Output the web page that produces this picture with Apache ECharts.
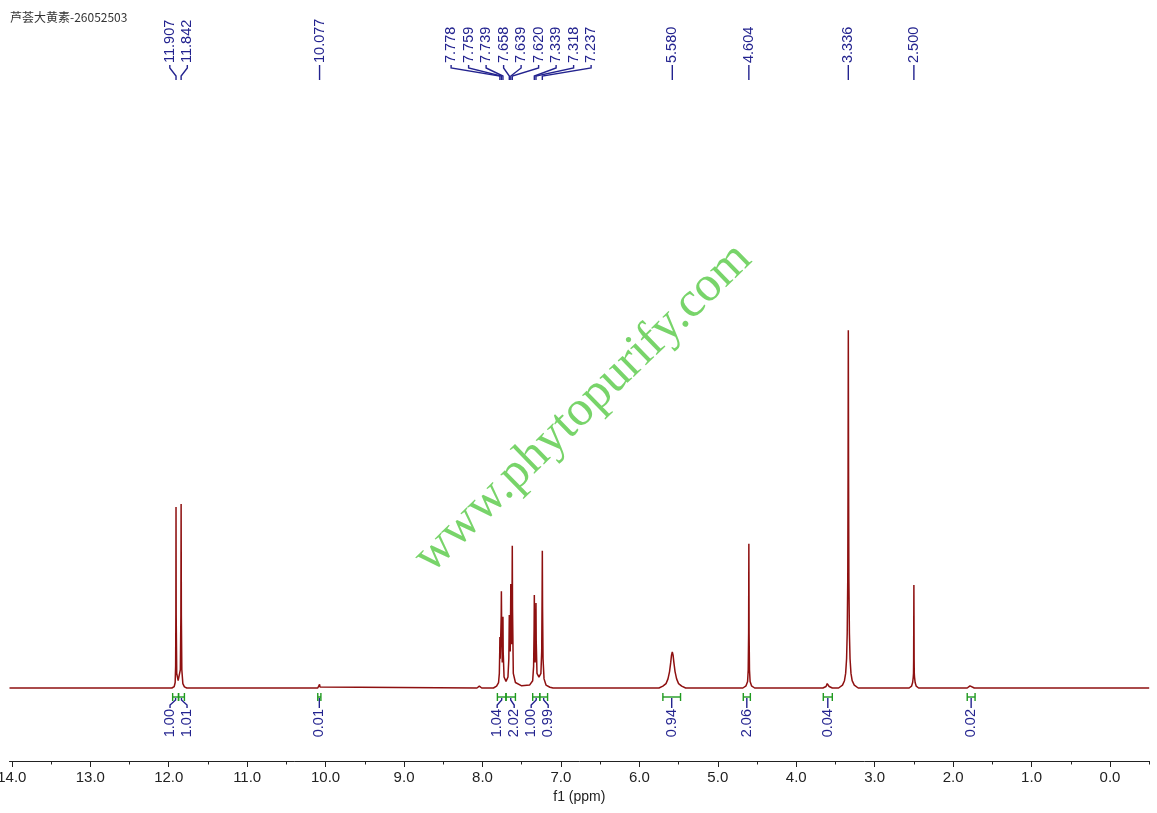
<!DOCTYPE html>
<html>
<head>
<meta charset="utf-8">
<script src="https://cdn.jsdelivr.net/npm/echarts@6/dist/echarts.min.js"></script>
<style>
html,body{margin:0;padding:0;background:#fff;}
#chart{width:1157px;height:813px;}
</style>
</head>
<body>
<div id="chart"></div>
<script>
// ---- data ----
const titleText = '芦荟大黄素-26052503';
const watermarkText = 'www.phytopurify.com';
const axisName = 'f1 (ppm)';
const majorTicks = [14, 13, 12, 11, 10, 9, 8, 7, 6, 5, 4, 3, 2, 1, 0];
const minorTicks = [13.5, 12.5, 11.5, 10.5, 9.5, 8.5, 7.5, 6.5, 5.5, 4.5, 3.5, 2.5, 1.5, 0.5, -0.5];
const peakLabels = [11.907, 11.842, 10.077, 7.778, 7.759, 7.739, 7.658, 7.639, 7.620, 7.339, 7.318, 7.237, 5.580, 4.604, 3.336, 2.500];
const intFrom = [11.95, 11.875, 10.10, 7.81, 7.70, 7.36, 7.27, 5.70, 4.675, 3.655, 1.82];
const intTo = [11.875, 11.80, 10.06, 7.70, 7.58, 7.27, 7.17, 5.475, 4.585, 3.54, 1.72];
const intValues = ['1.00', '1.01', '0.01', '1.04', '2.02', '1.00', '0.99', '0.94', '2.06', '0.04', '0.02'];
// spectrum points [ppm, intensity]
const spectrum = [
  [14.03, 0], [12.10, 0], [11.96, 0], [11.93, 0.4], [11.918, 1.5], [11.912, 6], [11.909, 20], [11.907, 49.6],
  [11.905, 20], [11.898, 4], [11.88, 2], [11.865, 2.5], [11.852, 5], [11.845, 20], [11.842, 50.4],
  [11.839, 20], [11.833, 5], [11.82, 1.2], [11.80, 0.3], [11.77, 0],
  [10.10, 0], [10.082, 0.3], [10.077, 1.0], [10.072, 0.3], [10.05, 0],
  [8.07, 0], [8.04, 0.5], [8.01, 0],
  [7.86, 0], [7.82, 0.5], [7.795, 1.5], [7.785, 4], [7.780, 10], [7.778, 14], [7.774, 8], [7.766, 8],
  [7.761, 20], [7.759, 26.5], [7.756, 18], [7.748, 7], [7.742, 14], [7.739, 19.5], [7.736, 10], [7.725, 3],
  [7.70, 1.8], [7.675, 3], [7.664, 8], [7.660, 16], [7.658, 20], [7.655, 12], [7.646, 10], [7.641, 22],
  [7.639, 28.5], [7.636, 18], [7.628, 12], [7.622, 30], [7.620, 39], [7.617, 22], [7.607, 4], [7.58, 1.5],
  [7.50, 0.6], [7.40, 0.8], [7.36, 2], [7.348, 6], [7.342, 16], [7.339, 25.5], [7.336, 15], [7.329, 7],
  [7.321, 15], [7.318, 23.3], [7.315, 13], [7.305, 4], [7.28, 3], [7.255, 4], [7.245, 10], [7.240, 25],
  [7.237, 37.6], [7.234, 22], [7.228, 8], [7.215, 2.5], [7.19, 0.8], [7.14, 0.2], [7.10, 0],
  [5.75, 0], [5.70, 0.5], [5.66, 1.2], [5.635, 2.5], [5.615, 4.5], [5.60, 7], [5.59, 9], [5.58, 9.9],
  [5.57, 9], [5.56, 7], [5.545, 4.5], [5.525, 2.5], [5.50, 1.2], [5.46, 0.5], [5.41, 0],
  [4.68, 0], [4.64, 0.6], [4.62, 1.8], [4.612, 5], [4.607, 15], [4.604, 39.5], [4.601, 15], [4.596, 5],
  [4.588, 1.8], [4.57, 0.6], [4.53, 0],
  [3.66, 0], [3.62, 0.4], [3.605, 1.2], [3.60, 1.5], [3.595, 1.2], [3.58, 0.4], [3.54, 0],
  [3.46, 0], [3.41, 0.8], [3.385, 2], [3.37, 4], [3.358, 8], [3.35, 15], [3.343, 30], [3.339, 60],
  [3.336, 98], [3.333, 60], [3.329, 30], [3.322, 15], [3.314, 8], [3.302, 4], [3.287, 2], [3.26, 0.8], [3.21, 0],
  [2.67, 0], [2.65, 0.4], [2.63, 0],
  [2.56, 0], [2.53, 0.5], [2.516, 1.5], [2.508, 3], [2.505, 4], [2.503, 8], [2.500, 28.2], [2.497, 8],
  [2.495, 4], [2.492, 3], [2.484, 1.5], [2.47, 0.5], [2.44, 0],
  [1.82, 0], [1.785, 0.6], [1.775, 1.0], [1.765, 0.6], [1.73, 0],
  [-0.5, 0]
];

// ---- styles ----
const lineColor = '#8e1010';
const blue = '#23238f';
const green = '#1f9a1f';

const chart = echarts.init(document.getElementById('chart'));
const axisCommon = {
  type: 'value', inverse: true, min: -0.5, max: 14.03, gridIndex: 0, position: 'bottom',
  splitLine: { show: false }
};
chart.setOption({
  animation: false,
  backgroundColor: '#fff',
  grid: { left: 9.5, right: 7.8, top: 323, bottom: 52, containLabel: false, outerBoundsMode: 'none' },
  xAxis: [
    Object.assign({}, axisCommon, {
      name: axisName, nameLocation: 'middle', nameGap: 25,
      nameTextStyle: { fontFamily: 'Liberation Sans', fontSize: 14, color: '#222' },
      axisLine: { show: true, onZero: false, lineStyle: { color: '#222', width: 1 } },
      axisTick: { show: true, customValues: majorTicks, length: 6, lineStyle: { color: '#222' } },
      axisLabel: { show: true, customValues: majorTicks, margin: 9,
        fontFamily: 'Liberation Sans', fontSize: 15, color: '#222',
        formatter: v => Number(v).toFixed(1) }
    }),
    Object.assign({}, axisCommon, {
      axisLine: { show: false, onZero: false },
      axisTick: { show: true, customValues: minorTicks, length: 3.5, lineStyle: { color: '#222' } },
      axisLabel: { show: false }
    })
  ],
  yAxis: { type: 'value', min: -20, max: 100, show: false, splitLine: { show: false } },
  series: [{
    type: 'line', data: spectrum, showSymbol: false, symbol: 'none',
    lineStyle: { color: lineColor, width: 1.5 }, silent: true, z: 5
  }]
});

const X = v => chart.convertToPixel({ xAxisIndex: 0 }, v);

function spread(targets, gap) {
  let clusters = targets.map((t, i) => ({ lo: t, hi: t, idx: [i] }));
  const pos = cl => {
    const c = (cl.lo + cl.hi) / 2, n = cl.idx.length;
    return cl.idx.map((_, k) => c + (k - (n - 1) / 2) * gap);
  };
  let merged = true;
  while (merged) {
    merged = false;
    for (let i = 0; i < clusters.length - 1; i++) {
      const a = pos(clusters[i]), b = pos(clusters[i + 1]);
      if (a[a.length - 1] + gap > b[0] + 0.01) {
        clusters.splice(i, 2, { lo: clusters[i].lo, hi: clusters[i + 1].hi, idx: clusters[i].idx.concat(clusters[i + 1].idx) });
        merged = true;
        break;
      }
    }
  }
  const out = [];
  clusters.forEach(cl => pos(cl).forEach((p, k) => { out[cl.idx[k]] = { p: p, grouped: cl.idx.length > 1 }; }));
  return out;
}

const graphics = [];
graphics.push({ type: 'text', left: 10, top: 11, z: 20,
  style: { text: titleText, fontFamily: 'Noto Sans CJK SC', fontSize: 12, fill: '#333' } });
graphics.push({ type: 'text', x: 583, y: 408, rotation: 44.2 * Math.PI / 180, z: 1,
  style: { text: watermarkText, fontFamily: 'Liberation Serif', fontSize: 50,
    fill: 'rgba(96,205,80,0.85)', align: 'center', verticalAlign: 'middle' } });

const peakPx = peakLabels.map(X);
const order = peakPx.map((p, i) => i).sort((a, b) => peakPx[a] - peakPx[b]);
const lp = spread(order.map(i => peakPx[i]), 17.5);
order.forEach((i, k) => {
  const px = peakPx[i], lx = lp[k].p;
  graphics.push({ type: 'text', x: lx, y: 63, rotation: Math.PI / 2, z: 20,
    style: { text: peakLabels[i].toFixed(3), fontFamily: 'Liberation Sans', fontSize: 14.5,
      fill: blue, align: 'left', verticalAlign: 'middle' } });
  const pts = lp[k].grouped ? [[lx, 65], [lx, 68], [px, 76], [px, 80]] : [[px, 65], [px, 80]];
  graphics.push({ type: 'polyline', z: 20, shape: { points: pts },
    style: { stroke: blue, lineWidth: 1.4, fill: null } });
});

const intC = intFrom.map((f, i) => (X(f) + X(intTo[i])) / 2);
const iorder = intC.map((p, i) => i).sort((a, b) => intC[a] - intC[b]);
const il = spread(iorder.map(i => intC[i]), 17);
iorder.forEach((i, k) => {
  const a = X(intFrom[i]), b = X(intTo[i]), c = intC[i], lx = il[k].p;
  graphics.push({ type: 'polyline', z: 21, shape: { points: [[a, 697], [b, 697]] },
    style: { stroke: green, lineWidth: 1.4, fill: null } });
  graphics.push({ type: 'polyline', z: 21, shape: { points: [[a, 693], [a, 701]] },
    style: { stroke: green, lineWidth: 1.4, fill: null } });
  graphics.push({ type: 'polyline', z: 21, shape: { points: [[b, 693], [b, 701]] },
    style: { stroke: green, lineWidth: 1.4, fill: null } });
  const pts = il[k].grouped ? [[c, 698], [c, 700], [lx, 705], [lx, 708]] : [[c, 698], [c, 708]];
  graphics.push({ type: 'polyline', z: 20, shape: { points: pts },
    style: { stroke: blue, lineWidth: 1.4, fill: null } });
  graphics.push({ type: 'text', x: lx, y: 709, rotation: Math.PI / 2, z: 20,
    style: { text: intValues[i], fontFamily: 'Liberation Sans', fontSize: 14.5,
      fill: blue, align: 'right', verticalAlign: 'middle' } });
});

chart.setOption({ graphic: graphics });
</script>
</body>
</html>
